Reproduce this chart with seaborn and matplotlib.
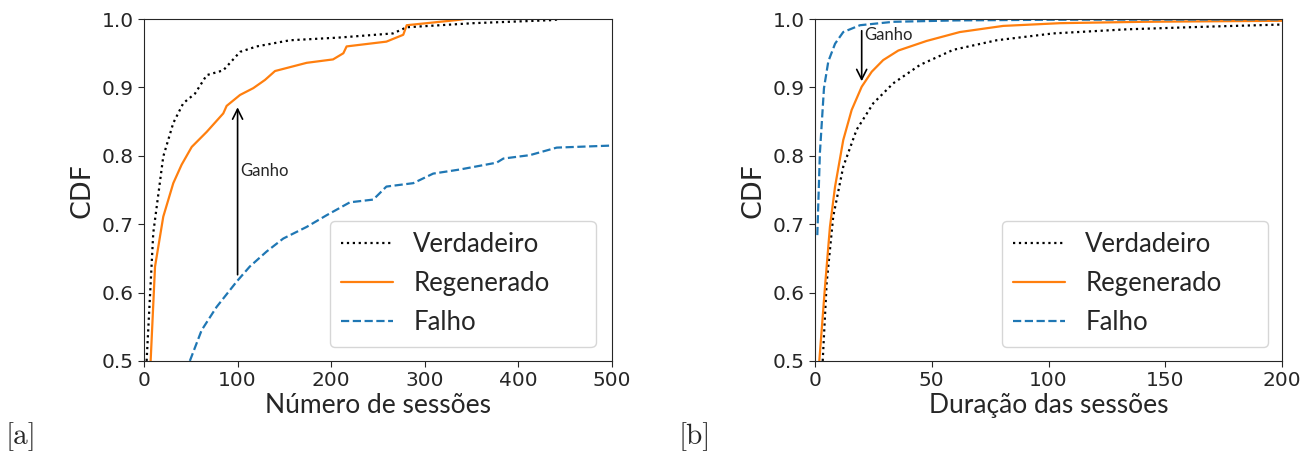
import matplotlib
matplotlib.use("Agg")
import pandas as pd
import seaborn as sns
from matplotlib import pyplot as plt

# ---- data: panel [a], numero de sessoes ----
a_verd_x = [2.8, 9.9, 20.6, 31.3, 42, 54.5, 67, 84.7, 102.6, 120.4, 156, 209, 266, 280.7, 352, 437, 445]
a_verd_y = [0.5, 0.687, 0.799, 0.848, 0.877, 0.891, 0.918, 0.925, 0.952, 0.960, 0.969, 0.973, 0.979, 0.988, 0.994, 0.9985, 1.0]

a_regen_x = [7.1, 11.8, 20.6, 31.3, 40.2, 51, 67, 84.7, 88.3, 102.6, 116.8, 129.3, 140, 173.8, 202, 213,
             216.5, 259, 277, 280.7, 334, 342]
a_regen_y = [0.5, 0.638, 0.711, 0.760, 0.787, 0.813, 0.835, 0.862, 0.873, 0.889, 0.899, 0.911, 0.924, 0.936,
             0.941, 0.950, 0.960, 0.967, 0.977, 0.991, 0.9985, 1.0]

a_falho_x = [49, 61.6, 77.6, 99, 113, 131, 148.8, 173.8, 195, 220, 245, 259, 287.7, 309, 337.6, 376.8, 384,
             412.4, 441, 500]
a_falho_y = [0.5, 0.545, 0.579, 0.616, 0.638, 0.660, 0.679, 0.696, 0.713, 0.732, 0.736, 0.755, 0.760, 0.774,
             0.780, 0.790, 0.796, 0.801, 0.812, 0.815]

# ---- data: panel [b], duracao das sessoes ----
b_verd_x = [3.3, 5, 7.8, 12.1, 17.8, 25, 33.5, 45, 59.2, 77.8, 102, 133.5, 169, 200]
b_verd_y = [0.5, 0.614, 0.711, 0.784, 0.838, 0.877, 0.906, 0.933, 0.955, 0.969, 0.979, 0.985, 0.989, 0.992]

b_regen_x = [1.85, 4.3, 6.4, 8.6, 12.1, 15.7, 20, 24.3, 29.2, 35.7, 47.8, 62, 80.6, 105, 140.5, 200]
b_regen_y = [0.5, 0.609, 0.696, 0.755, 0.823, 0.867, 0.901, 0.923, 0.940, 0.954, 0.968, 0.981, 0.990, 0.994,
             0.996, 0.9975]

b_falho_x = [1.0, 2.1, 3.85, 5.7, 8.6, 12.1, 19.3, 33.5, 60, 100, 200]
b_falho_y = [0.684, 0.804, 0.899, 0.938, 0.964, 0.981, 0.991, 0.996, 0.998, 0.999, 0.9995]

series_names = ["Verdadeiro", "Regenerado", "Falho"]
xlabels = ["Número de sessões", "Duração das sessões"]
panel_tags = ["[a]", "[b]"]

sns.set_style("ticks")
plt.rcParams["font.family"] = ["DejaVu Sans"]

styles = {
    "Verdadeiro": dict(color="black", linestyle=":"),
    "Regenerado": dict(color="tab:orange", linestyle="-"),
    "Falho": dict(color="tab:blue", linestyle="--"),
}

fig = plt.figure(figsize=(13.09, 4.54), dpi=100)
ax_a = fig.add_axes([0.110, 0.205, 0.3575, 0.753])
ax_b = fig.add_axes([0.6226, 0.205, 0.3568, 0.753])

panels = [
    (ax_a, [(a_verd_x, a_verd_y), (a_regen_x, a_regen_y), (a_falho_x, a_falho_y)], 500, (0.397, 0.041, 0.568, 0.1)),
    (ax_b, [(b_verd_x, b_verd_y), (b_regen_x, b_regen_y), (b_falho_x, b_falho_y)], 200, (0.400, 0.041, 0.570, 0.1)),
]

for i, (ax, curves, xmax, leg_box) in enumerate(panels):
    for name, (xs, ys) in zip(series_names, curves):
        df = pd.DataFrame({"x": xs, "y": ys})
        sns.lineplot(data=df, x="x", y="y", ax=ax, sort=False, label=name,
                     linewidth=1.6, **styles[name])
    ax.set_xlim(0, xmax)
    ax.set_ylim(0.5, 1.0)
    ax.set_yticks([0.5, 0.6, 0.7, 0.8, 0.9, 1.0])
    ax.tick_params(labelsize=14.5, length=4)
    for sp in ax.spines.values():
        sp.set_visible(True)
    ax.set_ylabel("CDF", fontsize=19.5)
    ax.set_xlabel(xlabels[i], fontsize=19, family=["Lato", "DejaVu Sans"], labelpad=2)
    ax.legend(loc="lower left", bbox_to_anchor=leg_box, mode="expand", borderaxespad=0,
              prop={"family": "Lato", "size": 18.5},
              handlelength=2.0, borderpad=0.45, labelspacing=0.55, handletextpad=0.8, fancybox=True)
    fig.text(0.004 + i * 0.5145, 0.022, panel_tags[i], family="cmr10", fontsize=21)

# annotations "Ganho"
ax_a.annotate("", xy=(100, 0.875), xytext=(100, 0.622),
              arrowprops=dict(arrowstyle="->", color="black", lw=1.2, mutation_scale=18))
ax_a.text(102.5, 0.778, "Ganho", fontsize=12, family="Lato", va="center")

ax_b.annotate("", xy=(20, 0.905), xytext=(20, 0.987),
              arrowprops=dict(arrowstyle="->", color="black", lw=1.2, mutation_scale=18))
ax_b.text(21.2, 0.977, "Ganho", fontsize=12, family="Lato", va="center")

fig.savefig("out.png", dpi=100)
